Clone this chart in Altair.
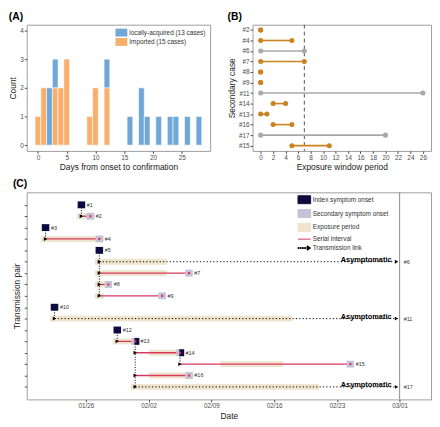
import json
from datetime import date

import altair as alt
import pandas as pd

FONT = "Liberation Sans"

# ---------------- Panel A data ----------------
local_days = [2, 3, 12, 16, 18, 19, 21, 23, 24, 26, 28]
local_counts = [2, 1, 1, 1, 2, 1, 1, 1, 1, 1, 1]
imported_days = [0, 1, 3, 4, 5, 9, 10, 12]
imported_counts = [1, 2, 2, 2, 3, 1, 2, 2]
a_labels = ["locally-acquired (13 cases)", "Imported (15 cases)"]
a_colors = ["#6FA8D6", "#FAAE6B"]
a_xticks = [0, 5, 10, 15, 20, 25]
a_yticks = [0, 1, 2, 3, 4]

# ---------------- Panel B data ----------------
b_cases = ["#2", "#4", "#6", "#7", "#8", "#9", "#11", "#14", "#13", "#16", "#17", "#15"]
b_status = ["Symptomatic", "Symptomatic", "Asymptomatic", "Symptomatic", "Symptomatic",
            "Symptomatic", "Asymptomatic", "Symptomatic", "Symptomatic", "Symptomatic",
            "Asymptomatic", "Symptomatic"]
b_start = [0, 0, 0, 0, 0, 0, 0, 2, 0, 2, 0, 5]
b_end = [0, 5, 7, 7, 0, 0, 26, 4, 1, 5, 20, 11]
b_status_levels = ["Asymptomatic", "Symptomatic"]
b_colors = ["#A9A9A9", "#C98320"]
b_xticks = [0, 2, 4, 6, 8, 10, 12, 14, 16, 18, 20, 22, 24, 26]
b_threshold = [7]

# ---------------- Panel C data ----------------
c_year = 2020
c_origin = "01/26"
c_rows = ["#1", "#2", "#3", "#4", "#5", "#6", "#7", "#8", "#9", "#10", "#11",
          "#12", "#13", "#14", "#15", "#16", "#17"]
idx_case = ["#1", "#3", "#5", "#10", "#12", "#13", "#14"]
idx_onset = ["01/25", "01/21", "01/27", "01/22", "01/29", "01/31", "02/05"]
sec_case = ["#2", "#4", "#6", "#7", "#8", "#9", "#11", "#13", "#14", "#15", "#16", "#17"]
sec_index = ["#1", "#3", "#5", "#5", "#5", "#5", "#10", "#12", "#13", "#14", "#13", "#13"]
sec_onset = ["01/26", "01/27", None, "02/06", "01/28", "02/03", None, "01/31", "02/05",
             "02/24", "02/06", None]
exp_start = ["01/25", "01/21", "01/27", "01/27", "01/27", "01/27", "01/22", "01/29",
             "02/02", "02/10", "02/02", "01/31"]
exp_end = ["01/27", "01/28", "02/04", "02/04", "01/28", "01/28", "02/18", "02/01",
           "02/06", "02/17", "02/07", "02/21"]
c_tick_labels = ["01/26", "02/02", "02/09", "02/16", "02/23", "03/01"]
c_cutoff = "03/01"
c_legend_items = ["Index symptom onset", "Secondary symptom onset", "Exposure period",
                  "Serial interval", "Transmission link"]

NAVY = "#0B0B42"
SECG = "#C4C4D8"
BEIGE = "#EFE4CE"
RED = "#D9395B"

W_A, W_B, GAP, H_TOP = 186, 181, 43, 128
W_C, H_C = W_A + GAP + W_B, 210

# =============== Panel A =================
imp = dict(zip(imported_days, imported_counts))
rowsA = []
for d, c in imp.items():
    rowsA.append(dict(d0=d - 0.5, d1=d + 0.5, c0=0, c1=c, grp=a_labels[1]))
for d, c in zip(local_days, local_counts):
    b = imp.get(d, 0)
    rowsA.append(dict(d0=d - 0.5, d1=d + 0.5, c0=b, c1=b + c, grp=a_labels[0]))
dfA = pd.DataFrame(rowsA)

RECT = "M-1.5,-1H1.5V1H-1.5Z"

def panel_title(t):
    return alt.TitleParams(text=t, anchor="start", frame="bounds", fontSize=10.5,
                           fontWeight="bold", font=FONT, color="black", offset=2)

chartA = alt.Chart(dfA).mark_rect(stroke="white", strokeWidth=0.6).encode(
    x=alt.X("d0:Q", scale=alt.Scale(domain=[-1.95, 29.95], nice=False, zero=False),
            axis=alt.Axis(values=a_xticks), title="Days from onset to confirmation"),
    x2="d1:Q",
    y=alt.Y("c0:Q", scale=alt.Scale(domain=[-0.2, 4.2], nice=False),
            axis=alt.Axis(values=a_yticks), title="Count"),
    y2="c1:Q",
    color=alt.Color("grp:N", scale=alt.Scale(domain=a_labels, range=a_colors),
                    legend=alt.Legend(title=None, orient="none", legendX=92, legendY=4,
                                      symbolType=RECT, symbolSize=64, symbolStrokeWidth=0,
                                      labelFontSize=6.5, rowPadding=1.5, labelOffset=4)),
).properties(width=W_A, height=H_TOP, title=panel_title("(A)"))

# =============== Panel B =================
dfB = pd.DataFrame(dict(case=b_cases, status=b_status, start=b_start, end=b_end))
xB = lambda f: alt.X(f + ":Q", scale=alt.Scale(domain=[-1.3, 27.3], nice=False, zero=False),
                     axis=alt.Axis(values=b_xticks), title="Exposure window period")
yB = alt.Y("case:N", sort=b_cases, scale=alt.Scale(type="point", padding=0.5),
           title="Secondary case")
colB_scale = alt.Scale(domain=b_status_levels, range=b_colors)
legB = alt.Legend(title=None, orient="none", legendX=125, legendY=4, symbolType="circle",
                  symbolSize=26, labelFontSize=6.5, rowPadding=2.5, symbolOpacity=1)

vline = alt.Chart(pd.DataFrame({"x": b_threshold})).mark_rule(
    strokeDash=[4, 3], color="#555555", strokeWidth=1).encode(x=xB("x"))
segB = alt.Chart(dfB).mark_rule(strokeWidth=1.6).encode(
    x=xB("start"), x2="end:Q", y=yB,
    color=alt.Color("status:N", scale=colB_scale, legend=None))
p1 = alt.Chart(dfB).mark_circle(size=26, opacity=1).encode(
    x=xB("start"), y=yB, color=alt.Color("status:N", scale=colB_scale, legend=legB))
p2 = alt.Chart(dfB).mark_circle(size=26, opacity=1).encode(
    x=xB("end"), y=yB, color=alt.Color("status:N", scale=colB_scale, legend=legB))
chartB = alt.layer(vline, segB, p1, p2).properties(width=W_B, height=H_TOP,
                                                   title=panel_title("(B)"))

# =============== Panel C =================
m0, dd0 = map(int, c_origin.split("/"))
ORIGIN = date(c_year, m0, dd0)

def day(s):
    m, d = map(int, s.split("/"))
    return (date(c_year, m, d) - ORIGIN).days

cut = day(c_cutoff)
tick_days = [day(s) for s in c_tick_labels]
label_expr = f"{json.dumps(c_tick_labels)}[indexof({json.dumps(tick_days)}, datum.value)]"

def XC(f):
    return alt.X(f + ":Q", scale=alt.Scale(domain=[-6.6, 38.5], nice=False, zero=False),
                 axis=alt.Axis(values=tick_days, labelExpr=label_expr), title="Date")

def YC(f):
    return alt.Y(f + ":Q", scale=alt.Scale(domain=[-0.1, len(c_rows) + 1.1], nice=False,
                                           zero=False, reverse=True),
                 axis=alt.Axis(values=list(range(1, len(c_rows) + 1)), labels=False),
                 title="Transmission pair")

row_of = {c: i + 1 for i, c in enumerate(c_rows)}
idx_on = {c: day(s) for c, s in zip(idx_case, idx_onset)}

sec = pd.DataFrame(dict(case=sec_case, index=sec_index,
                        onset=[day(s) if s else None for s in sec_onset],
                        e0=[day(s) for s in exp_start], e1=[day(s) for s in exp_end]))
sec["row"] = sec["case"].map(row_of)
sec["lx"] = sec["index"].map(idx_on) + 0.5
symp = sec[sec["onset"].notna()].copy()
asym = sec[sec["onset"].isna()].copy()
symp["mid"] = symp["onset"] + 0.5
symp["b0"] = symp["onset"] + 0.08
symp["b1"] = symp["onset"] + 0.92
asym["dend"] = cut - 0.6

idx = pd.DataFrame(dict(case=idx_case, onset=[idx_on[c] for c in idx_case]))
idx["row"] = idx["case"].map(row_of)
idx["also_sec"] = idx["case"].isin(sec_case)
idx["b0"] = idx["onset"] + idx["also_sec"].map({True: 0.42, False: 0.08})
idx["b1"] = idx["onset"] + idx["also_sec"].map({True: 0.96, False: 0.92})

links = sec.groupby("index").agg(r1=("row", "max"), x=("lx", "first")).reset_index()
links["r0"] = links["index"].map(row_of)

arrows = pd.concat([
    pd.DataFrame({"x": sec["lx"], "row": sec["row"]}),
    pd.DataFrame({"x": [cut - 0.35] * len(asym), "row": asym["row"].values}),
])

labs = pd.concat([
    pd.DataFrame({"x": idx.loc[~idx["also_sec"], "onset"] + 1.1,
                  "row": idx.loc[~idx["also_sec"], "row"],
                  "t": idx.loc[~idx["also_sec"], "case"]}),
    pd.DataFrame({"x": symp["onset"] + 1.1, "row": symp["row"], "t": symp["case"]}),
    pd.DataFrame({"x": [cut + 0.45] * len(asym), "row": asym["row"].values,
                  "t": asym["case"].values}),
])
asym_txt = pd.DataFrame({"x": [cut - 0.9] * len(asym), "row": asym["row"].values,
                         "t": ["Asymptomatic"] * len(asym)})

LINE = "M-1.6,0H1.6"
LINK = ("M-1.6,-0.12h0.28v0.24h-0.28Z M-1.05,-0.12h0.28v0.24h-0.28Z "
        "M-0.5,-0.12h0.28v0.24h-0.28Z M0.05,-0.12h0.28v0.24h-0.28Z "
        "M0.7,-0.55L1.6,0L0.7,0.55Z")
RECTC = "M-1.6,-1H1.6V1H-1.6Z"
leg_df = pd.DataFrame({"item": c_legend_items, "x": [0] * 5, "row": [1] * 5})
legC = alt.Legend(title=None, orient="none", legendX=round(W_C * 0.675), legendY=3,
                  symbolSize=64, symbolStrokeWidth=1, symbolOpacity=1, labelFontSize=6.5,
                  rowPadding=1, labelOffset=4)
leg_fill = [NAVY, SECG, BEIGE, RED, "black"]

L_exp = alt.Chart(sec).mark_rule(strokeWidth=6, color=BEIGE).encode(
    x=XC("e0"), x2="e1:Q", y=YC("row"))
L_link = alt.Chart(links).mark_rule(strokeDash=[1, 1.6], strokeWidth=1, color="black").encode(
    x=XC("x"), y=YC("r0"), y2="r1:Q")
L_dot = alt.Chart(asym).mark_rule(strokeDash=[1.2, 2.2], strokeWidth=1, color="black").encode(
    x=XC("lx"), x2="dend:Q", y=YC("row"))
L_red = alt.Chart(symp).mark_rule(strokeWidth=1.3, color=RED).encode(
    x=XC("lx"), x2="mid:Q", y=YC("row"))
L_sbox = alt.Chart(symp).mark_rule(strokeWidth=7, color=SECG).encode(
    x=XC("b0"), x2="b1:Q", y=YC("row"))
L_ibox = alt.Chart(idx).mark_rule(strokeWidth=7, color=NAVY).encode(
    x=XC("b0"), x2="b1:Q", y=YC("row"))
L_rend = alt.Chart(symp).mark_square(size=5, color=RED, opacity=1).encode(
    x=XC("mid"), y=YC("row"))
L_arrow = alt.Chart(arrows).mark_point(shape="triangle-right", filled=True, size=16,
                                       color="black", opacity=1).encode(
    x=XC("x"), y=YC("row"))
L_lab = alt.Chart(labs).mark_text(font=FONT, fontSize=5.5, align="left", baseline="middle",
                                  color="#333333").encode(x=XC("x"), y=YC("row"), text="t:N")
L_asym = alt.Chart(asym_txt).mark_text(font=FONT, fontSize=7.5, fontWeight="bold",
                                       align="right", baseline="middle", dy=-2,
                                       color="black").encode(
    x=XC("x"), y=YC("row"), text="t:N")
L_cut = alt.Chart(pd.DataFrame({"x": [cut]})).mark_rule(color="#8A8A8A", strokeWidth=1).encode(
    x=XC("x"))
L_leg = alt.Chart(leg_df).mark_point(filled=True, opacity=0, size=64).encode(
    x=XC("x"), y=YC("row"),
    fill=alt.Fill("item:N", scale=alt.Scale(domain=c_legend_items, range=leg_fill), legend=legC),
    stroke=alt.Stroke("item:N", scale=alt.Scale(domain=c_legend_items, range=leg_fill),
                      legend=legC),
    shape=alt.Shape("item:N", scale=alt.Scale(domain=c_legend_items,
                                              range=[RECTC, RECTC, RECTC, LINE, LINK]),
                    legend=legC),
)

chartC = alt.layer(L_exp, L_cut, L_link, L_dot, L_red, L_sbox, L_ibox, L_rend, L_arrow,
                   L_lab, L_asym, L_leg).properties(width=W_C, height=H_C,
                                                    title=panel_title("(C)"))

top = alt.hconcat(chartA, chartB, spacing=GAP, bounds="flush").resolve_scale(
    color="independent")
chart = alt.vconcat(top, chartC, spacing=7).resolve_scale(
    color="independent", fill="independent", stroke="independent", shape="independent"
).properties(padding=0, autosize=alt.AutoSizeParams(type="pad"))

chart = chart.configure(font=FONT, background="white").configure_view(
    stroke="#9E9E9E", strokeWidth=1).configure_axis(
    labelFont=FONT, labelFontSize=6.5, labelColor="#4D4D4D", titleFont=FONT,
    titleFontSize=8.5, titleFontWeight="normal", titleColor="#1A1A1A",
    tickColor="#4D4D4D", tickSize=2.5, domain=False, grid=False, labelPadding=1,
    titlePadding=2, minExtent=0,
).configure_legend(labelFont=FONT, labelColor="#333333", padding=0)

chart.save("out.html", embed_options={"renderer": "svg", "actions": False})
